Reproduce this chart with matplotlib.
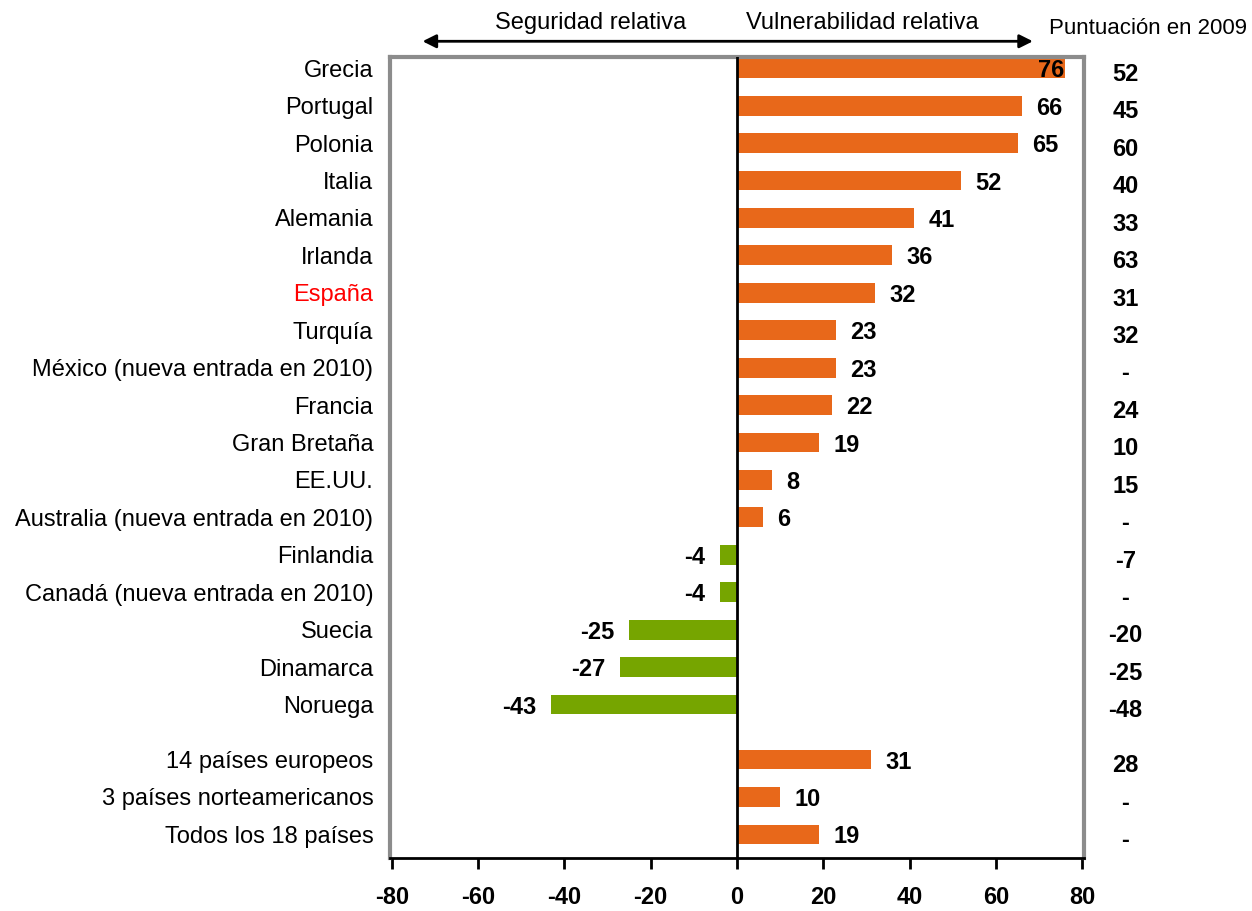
import matplotlib
matplotlib.use("Agg")
import matplotlib.pyplot as plt
import numpy as np

plt.rcParams['font.family'] = ['Liberation Sans', 'DejaVu Sans']

# Datos
paises = ["Grecia", "Portugal", "Polonia", "Italia", "Alemania", "Irlanda", "España",
          "Turquía", "México (nueva entrada en 2010)", "Francia", "Gran Bretaña", "EE.UU.",
          "Australia (nueva entrada en 2010)", "Finlandia", "Canadá (nueva entrada en 2010)",
          "Suecia", "Dinamarca", "Noruega",
          "14 países europeos", "3 países norteamericanos", "Todos los 18 países"]
puntuacion_2010 = [76, 66, 65, 52, 41, 36, 32, 23, 23, 22, 19, 8, 6, -4, -4, -25, -27, -43,
                   31, 10, 19]
puntuacion_2009 = ["52", "45", "60", "40", "33", "63", "31", "32", "-", "24", "10", "15", "-",
                   "-7", "-", "-20", "-25", "-48", "28", "-", "-"]
xticks = [-80, -60, -40, -20, 0, 20, 40, 60, 80]

naranja = "#E8681A"
verde = "#76A500"

# posiciones: 18 países y luego un hueco para los agregados
pos = list(range(18)) + [18.47, 19.47, 20.47]

fig = plt.figure(figsize=(12.52, 9.11), dpi=100)
ax = fig.add_axes([390/1252, 1 - 858/911, (1084-390)/1252, (858-57)/911])

colores = [naranja if v > 0 else verde for v in puntuacion_2010]
ax.barh(pos, puntuacion_2010, height=0.53, color=colores, zorder=2)
ax.axvline(0, color="black", lw=2, zorder=3)

ax.set_xlim(-80.4, 80.4)
ax.set_ylim(21.1, -0.3)

fs = 17

# etiquetas de valor
for p, v in zip(pos, puntuacion_2010):
    if v > 0:
        ax.text(min(v + 3.3, 69.8), p, str(v), ha="left", va="center_baseline", fontsize=fs,
                fontweight="bold", zorder=4)
    else:
        ax.text(v - 3.5, p, str(v), ha="right", va="center_baseline", fontsize=fs,
                fontweight="bold", zorder=4)

# columna de 2009
for p, s in zip(pos, puntuacion_2009):
    ax.text(90, p + 0.1, s, ha="center", va="center_baseline", fontsize=fs, fontweight="bold",
            clip_on=False)
ax.text(118.2, -1.05, "Puntuación en 2009", ha="right", va="center", fontsize=16, clip_on=False)

# flecha superior
ax.annotate("", xy=(-73.5, -0.72), xytext=(69.2, -0.72),
            arrowprops=dict(arrowstyle="<|-|>", color="black", lw=2, mutation_scale=20),
            annotation_clip=False)
ax.text(-34, -1.2, "Seguridad relativa", ha="center", va="center", fontsize=fs, clip_on=False)
ax.text(29, -1.2, "Vulnerabilidad relativa", ha="center", va="center", fontsize=fs, clip_on=False)

# ejes
ax.set_yticks(pos)
ax.set_yticklabels(paises, fontsize=fs)
ax.tick_params(axis="y", length=0, pad=12)
ax.get_yticklabels()[6].set_color("red")

ax.set_xticks(xticks)
ax.set_xticklabels([str(t) for t in xticks], fontsize=fs, fontweight="bold")
ax.tick_params(axis="x", direction="out", length=8, width=2, pad=12)

for lado in ["top", "left", "right"]:
    ax.spines[lado].set_color("#8c8c8c")
    ax.spines[lado].set_linewidth(3)
ax.spines["bottom"].set_color("black")
ax.spines["bottom"].set_linewidth(2)

fig.savefig("out.png", dpi=100)
